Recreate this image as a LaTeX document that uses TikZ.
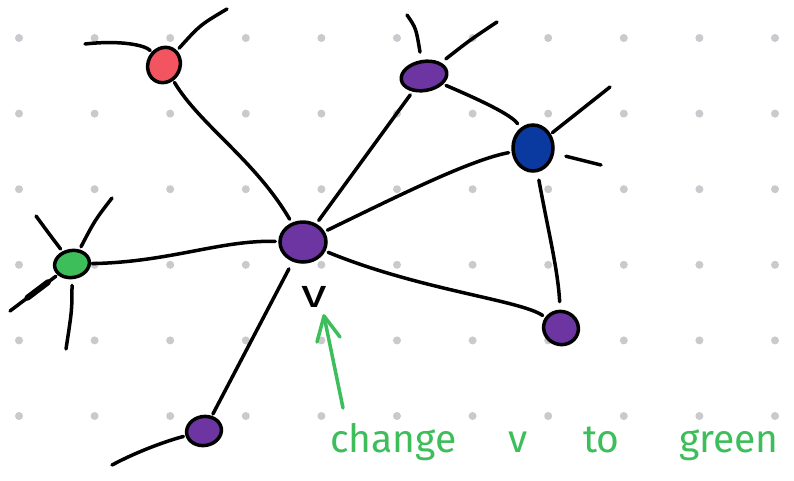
\documentclass[tikz,border=0pt]{standalone}
\usepackage{fontspec}
\setmainfont{Fira Sans}
\usetikzlibrary{shapes.geometric,arrows.meta}
\definecolor{dotgray}{HTML}{CACACE}
\definecolor{vred}{HTML}{F25560}
\definecolor{vpurple}{HTML}{6C35A2}
\definecolor{vblue}{HTML}{0A39A0}
\definecolor{vgreen}{HTML}{3DBE5B}
\definecolor{ink}{HTML}{000000}
\tikzset{
  vtx/.style={ellipse, draw=ink, line width=3.5pt, inner sep=0pt},
  edge/.style={draw=ink, line width=3.5pt, line cap=round},
  pointer/.style={draw=vgreen, line width=3.5pt, line cap=round, line join=round},
  note/.style={text=vgreen, font=\fontsize{39}{41}\selectfont, inner sep=0pt, anchor=base west},
}
\begin{document}
\begin{tikzpicture}[x=1pt,y=-1pt]
\useasboundingbox (0,0) rectangle (794,480);
\fill[white] (0,0) rectangle (794,480);
% dot grid
\foreach \i in {0,...,10} {
  \foreach \j in {0,...,5} {
    \fill[dotgray] (19+75.6*\i, 38+75.6*\j) circle (4);
  }
}
% vertices
\node[vtx, fill=vred, minimum width=32, minimum height=36, rotate=-25] (r) at (164,65) {};
\node[vtx, fill=vpurple, minimum width=46, minimum height=29, rotate=10] (tp) at (424,76) {};
\node[vtx, fill=vblue, minimum width=40, minimum height=46] (b) at (533,148) {};
\node[vtx, fill=vpurple, minimum width=46, minimum height=40] (c) at (303,242) {};
\node[vtx, fill=vgreen, minimum width=35, minimum height=27, rotate=10] (g) at (72,264) {};
\node[vtx, fill=vpurple, minimum width=35, minimum height=33, rotate=-20] (br) at (561,328) {};
\node[vtx, fill=vpurple, minimum width=35, minimum height=29, rotate=10] (bp) at (204,431) {};
% free ends of the loose edges
\coordinate (r1) at (85,44);
\coordinate (r2) at (227,9);
\coordinate (tp1) at (407,15);
\coordinate (tp2) at (497,22);
\coordinate (b1) at (610,87);
\coordinate (b2) at (601,165);
\coordinate (g1) at (36,216);
\coordinate (g2) at (112,198);
\coordinate (g3) at (10,311);
\coordinate (g4) at (66,349);
\coordinate (bp1) at (112,465);
% edges between vertices
\draw[edge, shorten <=2pt, shorten >=4pt] (r) .. controls (200,125) and (255,160) .. (c);
\draw[edge, shorten <=4pt, shorten >=4pt] (c) -- (tp);
\draw[edge, shorten <=3pt, shorten >=5pt] (tp) .. controls (480,100) and (512,115) .. (b);
\draw[edge, shorten <=3pt, shorten >=3pt] (c) .. controls (400,195) and (470,160) .. (b);
\draw[edge, shorten <=8pt, shorten >=8pt] (b) .. controls (548,230) and (558,270) .. (br);
\draw[edge, shorten <=3pt, shorten >=3pt] (c) .. controls (420,290) and (520,300) .. (br);
\draw[edge, shorten <=1pt, shorten >=3pt] (g) .. controls (170,262) and (220,240) .. (c);
\draw[edge, shorten <=8pt, shorten >=2pt] (c) -- (bp);
% loose edges
\draw[edge, shorten >=2pt] (r1) .. controls (120,40) and (145,45) .. (r);
\draw[edge, shorten >=3pt] (r2) .. controls (200,25) .. (r);
\draw[edge, shorten >=8pt] (tp1) .. controls (416,28) .. (tp);
\draw[edge, shorten >=6pt] (tp2) .. controls (470,40) .. (tp);
\draw[edge, shorten >=2pt] (b1) -- (b);
\draw[edge, shorten >=12pt] (b2) -- (b);
\draw[edge, shorten >=3pt] (g1) .. controls (50,235) .. (g);
\draw[edge, shorten >=3pt] (g2) .. controls (95,220) .. (g);
\draw[edge, shorten >=2pt] (g3) -- (g);
\draw[edge, line width=6pt, shorten >=12pt, shorten <=22pt] (g3) -- (g);
\draw[edge, shorten >=6pt] (g4) .. controls (72,310) .. (g);
\draw[edge, shorten >=2pt] (bp1) .. controls (140,450) and (170,440) .. (bp);
% vertex label
\node[text=ink, font=\fontsize{40}{42}\selectfont, inner sep=0pt, xscale=1.3] (vl) at (314,297) {v};
% pointer from the note up to the label
\coordinate (arrtail) at (343,408);
\coordinate (arrtip) at (324,316);
\coordinate (barbl) at (317,342);
\coordinate (barbr) at (340,337);
\draw[pointer] (arrtail) -- (arrtip);
\draw[pointer] (barbl) -- (arrtip) -- (barbr);
% note text
\node[note] (w1) at (330,452) {change};
\node[note] (w2) at (508,452) {v};
\node[note] (w3) at (583,452) {to};
\node[note] (w4) at (679,452) {green};
\end{tikzpicture}
\end{document}
